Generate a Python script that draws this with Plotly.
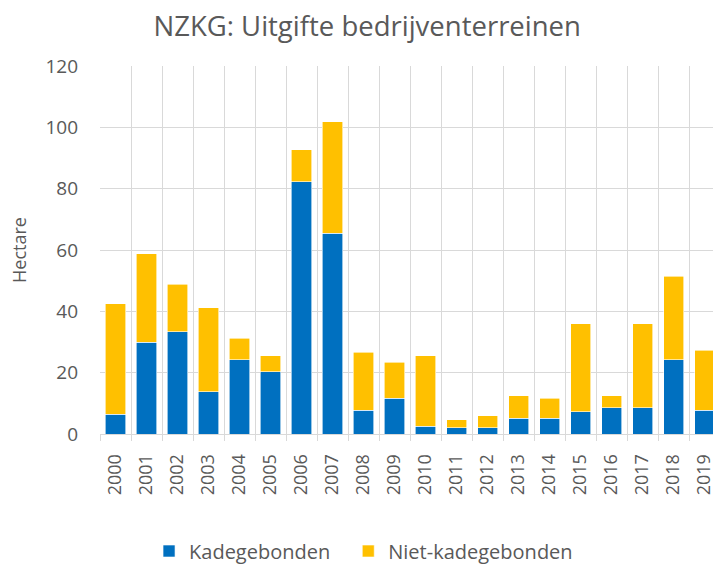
import plotly.graph_objects as go

years = [str(y) for y in range(2000, 2020)]
totaal = [42.4, 58.8, 48.9, 41.2, 31.3, 25.5, 92.7, 101.8, 26.7, 23.4,
          25.5, 4.6, 5.9, 12.4, 11.7, 35.9, 12.4, 35.9, 51.5, 27.3]
kadegebonden = [6.5, 30.0, 33.3, 13.8, 24.2, 20.3, 82.3, 65.4, 7.8, 11.7,
                2.6, 2.0, 2.0, 5.2, 5.2, 7.2, 8.5, 8.5, 24.2, 7.8]
niet_kadegebonden = [round(t - k, 1) for t, k in zip(totaal, kadegebonden)]

font = "Open Sans"
grey = "#595959"

fig = go.Figure()
fig.add_bar(x=years, y=kadegebonden, name="Kadegebonden", legend="legend",
            marker=dict(color="#0070C0", line=dict(color="white", width=0.6)))
fig.add_bar(x=years, y=niet_kadegebonden, name="Niet-kadegebonden", legend="legend2",
            marker=dict(color="#FFC000", line=dict(color="white", width=0.6)))

legend_common = dict(orientation="h", y=-0.318, yanchor="middle", xanchor="left",
                     font=dict(size=20, color=grey), bgcolor="rgba(0,0,0,0)")

fig.update_layout(
    width=713, height=565,
    barmode="stack", bargap=0.35,
    paper_bgcolor="white", plot_bgcolor="white",
    margin=dict(l=100, r=0, t=66, b=131, autoexpand=False),
    font=dict(family=font, color=grey, size=18),
    title=dict(text="NZKG: Uitgifte bedrijventerreinen", x=0.515, xanchor="center",
               y=0.954, yanchor="middle", font=dict(size=27.5, color=grey, family=font)),
    legend=dict(x=0.08, **legend_common),
    legend2=dict(x=0.405, **legend_common),
    showlegend=True,
)
fig.update_xaxes(type="category", tickson="boundaries", range=[-0.5, 19.27],
                 automargin=False,
                 showgrid=True, gridcolor="#d9d9d9", gridwidth=1,
                 showline=True, linecolor="#d9d9d9", linewidth=1,
                 ticks="outside", ticklen=6, tickcolor="#d9d9d9",
                 ticklabelstandoff=12,
                 tickangle=-90, tickfont=dict(size=18, color=grey))
fig.update_yaxes(range=[0, 120], dtick=20, showgrid=True, gridcolor="#d9d9d9",
                 gridwidth=1, zeroline=False, showline=False, automargin=False,
                 ticklabelstandoff=21, tickfont=dict(size=19, color=grey),
                 title=dict(text="Hectare", font=dict(size=18, color=grey), standoff=14))

fig.write_html("out.html", config={"displayModeBar": False},
               post_script="document.body.style.margin='0px';")
